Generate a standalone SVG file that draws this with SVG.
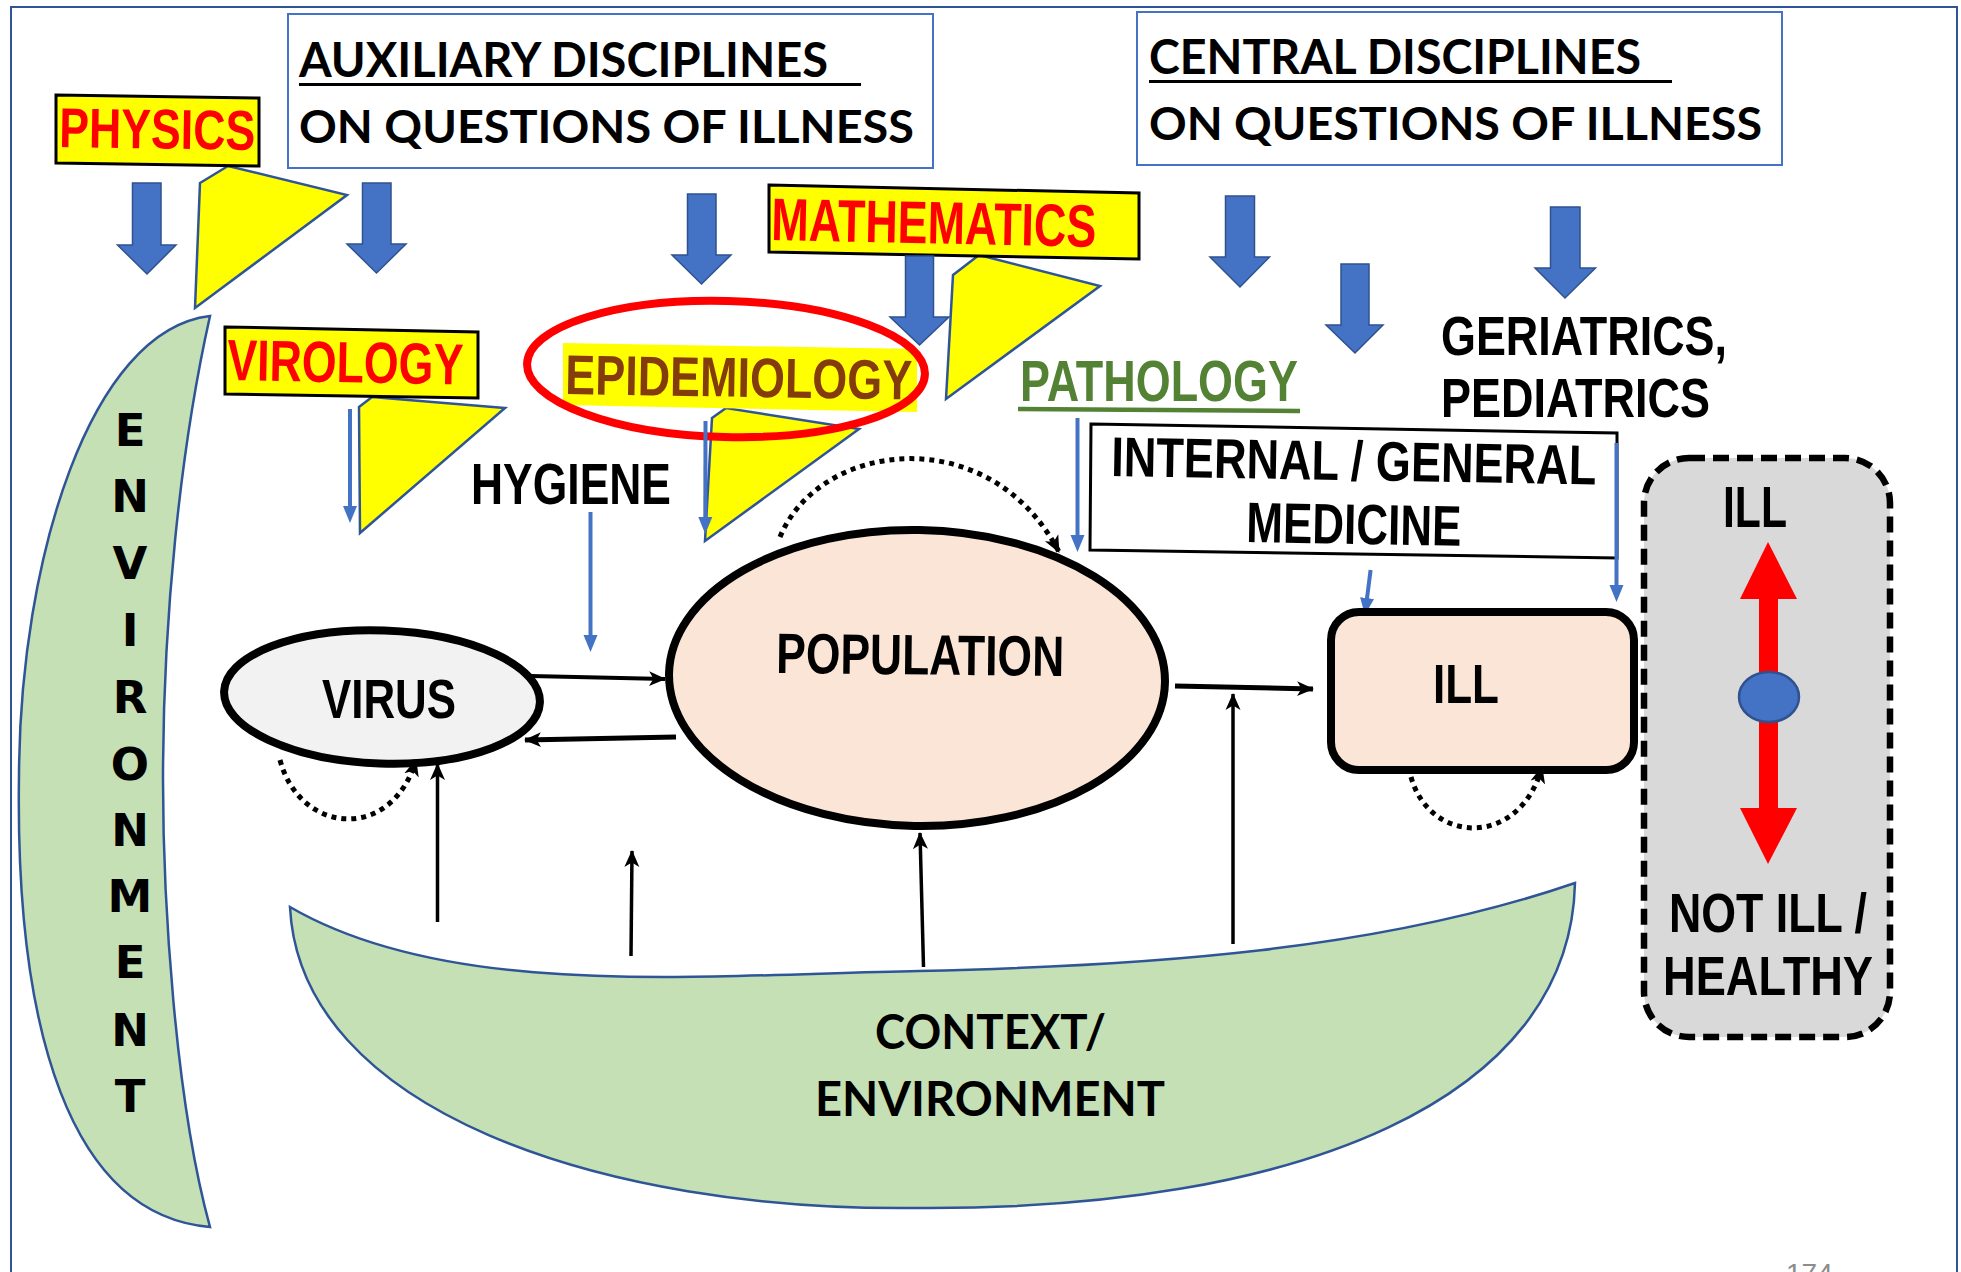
<svg xmlns="http://www.w3.org/2000/svg" width="1961" height="1272" viewBox="0 0 1961 1272">
  <defs>
    <style>
      .narrow { font-family: "Liberation Sans Narrow", "Liberation Sans", Arial, sans-serif; font-weight: bold; }
      .head { font-family: Lato, "Open Sans", "Liberation Sans", sans-serif; font-weight: bold; fill: #000; }
      .blk { fill: #000; }
      .red { fill: #FF0000; }
      .label-box { fill: #FFFF00; stroke: #000; stroke-width: 3; }
      .pointer { fill: #FFFF00; stroke: #2F5597; stroke-width: 2.5; stroke-linejoin: miter; }
      .block-arrow { fill: #4472C4; stroke: #2F528F; stroke-width: 1.5; }
      .thin-blue { stroke: #4472C4; stroke-width: 4; fill: none; }
      .conn { stroke: #000; fill: none; }
      .dotted { stroke: #000; stroke-width: 5; fill: none; stroke-dasharray: 5 5; }
      .green-shape { fill: #C5E0B4; stroke: #2F5597; stroke-width: 2.5; }
      .env-letter { font-family: "DejaVu Sans", Verdana, sans-serif; font-weight: bold; font-size: 45px; fill: #000; text-anchor: middle; }
    </style>
    <marker id="blueHead" markerUnits="userSpaceOnUse" markerWidth="18" markerHeight="16" refX="2" refY="8" orient="auto">
      <path d="M0,1 L17,8 L0,15 Z" fill="#4472C4"/>
    </marker>
    <marker id="blackHead" markerUnits="userSpaceOnUse" markerWidth="18" markerHeight="18" refX="16" refY="9" orient="auto">
      <path d="M0,1.5 L17,9 L0,16.5 L4.5,9 Z" fill="#000"/>
    </marker>
  </defs>

  <!-- slide frame -->
  <rect x="11" y="7" width="1946" height="1300" fill="#FFFFFF" stroke="#2F5597" stroke-width="2"/>

  <!-- left crescent: ENVIRONMENT -->
  <g id="environment-left">
    <path class="green-shape" d="M210,316 C90,330 20,560 19,775 C15,1030 70,1215 210,1227 C175,1100 163,900 163,780 C163,620 180,450 210,316 Z"/>
    <text class="env-letter" x="130" y="446">E</text>
    <text class="env-letter" x="130" y="512">N</text>
    <text class="env-letter" x="130" y="579">V</text>
    <text class="env-letter" x="130" y="646">I</text>
    <text class="env-letter" x="130" y="713">R</text>
    <text class="env-letter" x="130" y="780">O</text>
    <text class="env-letter" x="130" y="846">N</text>
    <text class="env-letter" x="130" y="912">M</text>
    <text class="env-letter" x="130" y="978">E</text>
    <text class="env-letter" x="130" y="1046">N</text>
    <text class="env-letter" x="130" y="1112">T</text>
  </g>

  <!-- bottom bowl: CONTEXT / ENVIRONMENT -->
  <g id="context">
    <path class="green-shape" d="M290,907 C450,1000 700,975 919,971 C1150,966 1380,950 1575,883 C1570,1100 1300,1210 919,1208 C600,1212 300,1110 290,907 Z"/>
    <text class="head" x="875" y="1049" font-size="47" textLength="231" lengthAdjust="spacingAndGlyphs">CONTEXT/</text>
    <text class="head" x="815" y="1116" font-size="47" textLength="350" lengthAdjust="spacingAndGlyphs">ENVIRONMENT</text>
  </g>

  <!-- header boxes -->
  <g id="auxiliary-disciplines">
    <rect x="288" y="14" width="645" height="154" fill="#FFFFFF" stroke="#4472C4" stroke-width="2"/>
    <text class="head" x="299" y="77" font-size="47" textLength="529" lengthAdjust="spacingAndGlyphs">AUXILIARY DISCIPLINES</text>
    <line x1="299" y1="84.5" x2="861" y2="84.5" stroke="#000" stroke-width="3"/>
    <text class="head" x="299" y="143" font-size="46" textLength="615" lengthAdjust="spacingAndGlyphs">ON QUESTIONS OF ILLNESS</text>
  </g>
  <g id="central-disciplines">
    <rect x="1137" y="12" width="645" height="153" fill="#FFFFFF" stroke="#4472C4" stroke-width="2"/>
    <text class="head" x="1149" y="74" font-size="47" textLength="492" lengthAdjust="spacingAndGlyphs">CENTRAL DISCIPLINES</text>
    <line x1="1149" y1="81.5" x2="1672" y2="81.5" stroke="#000" stroke-width="3"/>
    <text class="head" x="1149" y="140" font-size="46" textLength="613" lengthAdjust="spacingAndGlyphs">ON QUESTIONS OF ILLNESS</text>
  </g>

  <!-- discipline arrows -->
  <g id="discipline-arrows">
    <path class="block-arrow" d="M132.5,183 H161 V245 H176 L147,274 L117.5,245 H132.5 Z"/>
    <path class="block-arrow" d="M362.5,183 H391 V244 H406 L376.5,273 L347,244 H362.5 Z"/>
    <path class="block-arrow" d="M687.5,194 H716 V255 H731 L701.5,284 L672,255 H687.5 Z"/>
    <path class="block-arrow" d="M1225.5,196 H1254.5 V257 H1269.5 L1240,287 L1210,257 H1225.5 Z"/>
    <path class="block-arrow" d="M1341,264 H1369 V325 H1383 L1355,353 L1326,325 H1341 Z"/>
    <path class="block-arrow" d="M1550.5,207 H1580 V268 H1595.5 L1565,298 L1535,268 H1550.5 Z"/>
  </g>

  <!-- PHYSICS -->
  <g id="physics">
    <polygon class="pointer" points="200,183 228,166 347,195 195,308"/>
    <polygon class="label-box" points="56,95 259,98 259,166 56,163"/>
    <text class="narrow red" x="59" y="147" font-size="56" textLength="196" lengthAdjust="spacingAndGlyphs" transform="rotate(0.85 59 147)">PHYSICS</text>
  </g>

  <!-- MATHEMATICS -->
  <g id="mathematics">
    <polygon class="pointer" points="953,275 979,255 1100,286 946,399"/>
    <polygon class="label-box" points="769,185 1139,193 1139,259 769,252"/>
    <text class="narrow red" x="771" y="240" font-size="60" textLength="325" lengthAdjust="spacingAndGlyphs" transform="rotate(1.2 771 240)">MATHEMATICS</text>
    <path class="block-arrow" d="M905.5,256 H933.5 V317 H949 L919.5,345 L890,317 H905.5 Z"/>
  </g>

  <!-- VIROLOGY -->
  <g id="virology">
    <polygon class="pointer" points="359,407 372,397 505,408 360,533"/>
    <polygon class="label-box" points="225,327 478,332 478,398 225,394"/>
    <text class="narrow red" x="227" y="380" font-size="58" textLength="236" lengthAdjust="spacingAndGlyphs" transform="rotate(1.1 227 380)">VIROLOGY</text>
    <line class="thin-blue" x1="350" y1="409" x2="350" y2="508" marker-end="url(#blueHead)"/>
  </g>

  <!-- EPIDEMIOLOGY -->
  <g id="epidemiology">
    <polygon class="pointer" points="712,418 726,408 859,429 705,541"/>
    <polygon points="563,343 917,349 917,412 563,405" fill="#FFFF00"/>
    <text class="narrow" x="565" y="394" font-size="56" fill="#843C0C" textLength="347" lengthAdjust="spacingAndGlyphs" transform="rotate(0.9 565 394)">EPIDEMIOLOGY</text>
    <ellipse cx="726" cy="369" rx="199" ry="68" fill="none" stroke="#FF0000" stroke-width="8" transform="rotate(1.5 726 369)"/>
    <line class="thin-blue" x1="705.5" y1="421" x2="705.3" y2="519" marker-end="url(#blueHead)"/>
  </g>

  <!-- HYGIENE -->
  <g id="hygiene">
    <text class="narrow blk" x="471" y="504" font-size="57" textLength="200" lengthAdjust="spacingAndGlyphs">HYGIENE</text>
    <line class="thin-blue" x1="590.5" y1="512" x2="590.5" y2="637" marker-end="url(#blueHead)"/>
  </g>

  <!-- PATHOLOGY -->
  <g id="pathology">
    <text class="narrow" x="1020" y="401" font-size="57" fill="#548235" textLength="278" lengthAdjust="spacingAndGlyphs">PATHOLOGY</text>
    <line x1="1018" y1="409" x2="1300" y2="411" stroke="#548235" stroke-width="4.5"/>
    <line class="thin-blue" x1="1077.5" y1="418" x2="1077.5" y2="537" marker-end="url(#blueHead)"/>
  </g>

  <!-- GERIATRICS, PEDIATRICS -->
  <g id="geriatrics-pediatrics">
    <text class="narrow blk" x="1441" y="355" font-size="56" textLength="286" lengthAdjust="spacingAndGlyphs">GERIATRICS,</text>
    <text class="narrow blk" x="1441" y="417" font-size="56" textLength="269" lengthAdjust="spacingAndGlyphs">PEDIATRICS</text>
  </g>

  <!-- INTERNAL / GENERAL MEDICINE -->
  <g id="internal-medicine">
    <polygon points="1091,424 1617,433 1617,558 1090,550" fill="#FFFFFF" stroke="#000" stroke-width="3"/>
    <text class="narrow blk" x="1111" y="476" font-size="56" textLength="485" lengthAdjust="spacingAndGlyphs" transform="rotate(1 1111 476)">INTERNAL / GENERAL</text>
    <text class="narrow blk" x="1246" y="542" font-size="57" textLength="215" lengthAdjust="spacingAndGlyphs" transform="rotate(1 1246 542)">MEDICINE</text>
    <line class="thin-blue" x1="1370.6" y1="570" x2="1366.8" y2="600" marker-end="url(#blueHead)"/>
    <line class="thin-blue" x1="1616.5" y1="443" x2="1616.5" y2="587" marker-end="url(#blueHead)"/>
  </g>

  <!-- VIRUS -->
  <g id="virus">
    <ellipse cx="382" cy="697" rx="158" ry="66.5" fill="#F2F2F2" stroke="#000" stroke-width="8" transform="rotate(2 382 697)"/>
    <text class="narrow blk" x="322" y="718" font-size="56" textLength="134" lengthAdjust="spacingAndGlyphs">VIRUS</text>
  </g>

  <!-- POPULATION -->
  <g id="population">
    <ellipse cx="917" cy="678" rx="248" ry="148" fill="#FBE5D6" stroke="#000" stroke-width="8" transform="rotate(1 917 678)"/>
    <text class="narrow blk" x="776" y="673" font-size="57" textLength="288" lengthAdjust="spacingAndGlyphs" transform="rotate(0.6 776 673)">POPULATION</text>
  </g>

  <!-- ILL -->
  <g id="ill">
    <rect x="1331" y="612" width="303" height="158" rx="28" fill="#FBE5D6" stroke="#000" stroke-width="8"/>
    <text class="narrow blk" x="1433" y="703" font-size="56" textLength="66" lengthAdjust="spacingAndGlyphs">ILL</text>
  </g>

  <!-- ILL / NOT ILL scale -->
  <g id="health-scale">
    <rect x="1644" y="458" width="246" height="579" rx="45" fill="#D9D9D9" stroke="#000" stroke-width="6.5" stroke-dasharray="16 8"/>
    <text class="narrow blk" x="1723" y="527" font-size="57" textLength="64" lengthAdjust="spacingAndGlyphs">ILL</text>
    <path d="M1768,542 L1797,599 H1778 V808 H1797 L1768,864 L1740,808 H1759 V599 H1740 Z" fill="#FF0000"/>
    <ellipse cx="1769" cy="697" rx="30" ry="25" fill="#4472C4" stroke="#2F528F" stroke-width="2.5"/>
    <text class="narrow blk" x="1669" y="932" font-size="55" textLength="198" lengthAdjust="spacingAndGlyphs">NOT ILL /</text>
    <text class="narrow blk" x="1663" y="995" font-size="56" textLength="210" lengthAdjust="spacingAndGlyphs">HEALTHY</text>
  </g>

  <!-- connectors -->
  <g id="connectors">
    <line class="conn" stroke-width="4" x1="531" y1="676" x2="665" y2="679" marker-end="url(#blackHead)"/>
    <line class="conn" stroke-width="5" x1="676" y1="737" x2="525" y2="740" marker-end="url(#blackHead)"/>
    <line class="conn" stroke-width="5" x1="1175" y1="686" x2="1313" y2="689" marker-end="url(#blackHead)"/>
    <line class="conn" stroke-width="3.5" x1="437.5" y1="922" x2="437.5" y2="764" marker-end="url(#blackHead)"/>
    <line class="conn" stroke-width="3.5" x1="631" y1="956" x2="632" y2="851" marker-end="url(#blackHead)"/>
    <line class="conn" stroke-width="3.5" x1="923.5" y1="967" x2="920" y2="833" marker-end="url(#blackHead)"/>
    <line class="conn" stroke-width="3.5" x1="1233" y1="944" x2="1233" y2="694" marker-end="url(#blackHead)"/>
    <!-- self loops -->
    <path class="dotted" d="M280,760 C300,835 392,842 416,760" marker-end="url(#blackHead)"/>
    <path class="dotted" d="M780,537 C820,440 990,420 1059,552" marker-end="url(#blackHead)"/>
    <path class="dotted" d="M1411,777 C1430,845 1520,848 1542,767" marker-end="url(#blackHead)"/>
  </g>

  <!-- page number -->
  <text x="1786" y="1283" font-family="Liberation Sans, Arial, sans-serif" font-size="28" fill="#8C8C8C">174</text>
</svg>
